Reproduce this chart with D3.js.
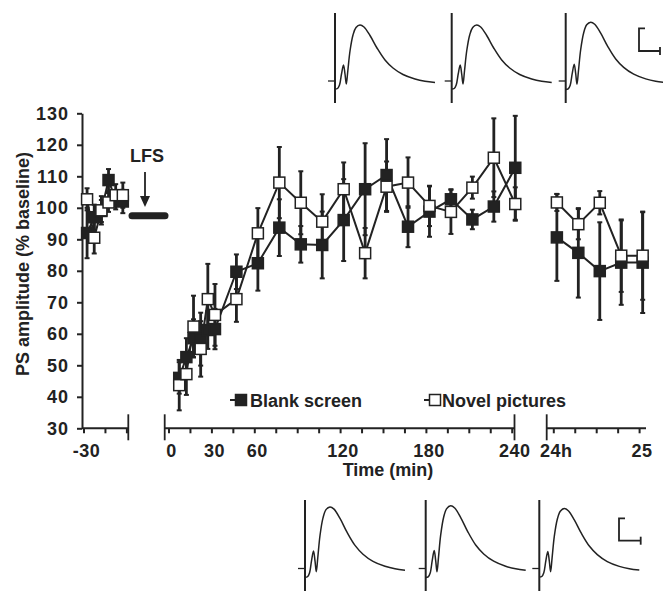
<!DOCTYPE html>
<html>
<head>
<meta charset="utf-8">
<script src="https://cdn.jsdelivr.net/npm/d3@7/dist/d3.min.js"></script>
<style>
  html, body { margin: 0; padding: 0; background: #fff; }
  svg { display: block; }
  text { font-family: "Liberation Sans", Arial, Helvetica, sans-serif; font-weight: bold; fill: #222; }
</style>
</head>
<body>
<svg id="chart" width="663" height="591"></svg>
<script>
// ---------------- DATA ----------------
// Baseline (min before LFS)
const baseTime = [-27.5, -22.5, -17.5, -12.5, -7.5, -2.5];
const baseBlank = [92, 97, 99, 108.8, 102.5, 102];
const baseBlankSem = [8, 4, 3.5, 3.5, 3, 3.7];
const baseNovel = [102.7, 90.5, 99.2, 101.7, 104, 104];
const baseNovelSem = [3.5, 5, 4.5, 3, 3.5, 4];

// Post-LFS (min)
const postTime = [7.5, 12.5, 17.5, 22.5, 27.5, 32.5, 47.5, 62.5, 77.5, 92.5, 107.5, 122.5, 137.5, 152.5, 167.5, 182.5, 197.5, 212.5, 227.5, 242.5];
const postBlank = [46, 52.6, 58.6, 58.3, 61.2, 61.5, 79.7, 82.4, 93.7, 88.4, 88.2, 96.1, 105.9, 110.4, 94, 98.8, 102.7, 96.3, 100.4, 112.7];
const postBlankSem = [5, 6, 6, 8.4, 6, 6.4, 5.5, 8.7, 9, 5.8, 10.6, 13, 14.6, 11.4, 6.5, 8, 3.2, 3.1, 4.8, 16.5];
const postNovel = [43.7, 47.2, 62.3, 55.2, 71, 66, 71, 91.9, 108, 101.6, 95.6, 105.9, 85.6, 106.7, 108, 100.6, 98.7, 106.4, 115.9, 101.2];
const postNovelSem = [8, 6.6, 9.8, 8.8, 11.2, 9.8, 7.2, 8, 11.3, 10, 8.7, 8.5, 8, 8, 8, 6.4, 7, 3.5, 12.5, 5.3];

// 24 h later (min after 24h)
const dayTime = [2.5, 17.5, 32.5, 47.5, 62.5];
const dayBlank = [90.6, 85.7, 79.9, 82.6, 82.6];
const dayBlankSem = [13.8, 14.2, 15.5, 13.4, 16];
const dayNovel = [101.7, 94.8, 101.6, 84.8, 84.8];
const dayNovelSem = [2.7, 4.8, 3.7, 11.5, 14];

// Axis ticks / labels
const yTicks = [30, 40, 50, 60, 70, 80, 90, 100, 110, 120, 130];
const seg1Ticks = [-30, -15, 0];
const seg1Labels = [{t: -30, text: "-30"}];
const seg2Ticks = d3.range(0, 241, 15);
const seg2Labels = [{t: 0, text: "0"}, {t: 30, text: "30"}, {t: 60, text: "60"}, {t: 120, text: "120"}, {t: 180, text: "180"}, {t: 240, text: "240"}];
const seg3Ticks = [0, 15, 30, 45, 60];
const seg3Labels = [{t: 0, text: "24h"}, {t: 60, text: "25"}];
const seriesNames = ["Blank screen", "Novel pictures"];
const lfsLevel = 97.5;

// Example field-potential trace shape (dx, dy)
const traceShape = [[0, 8], [2.5, 7.5], [4.5, 4], [6.5, -7], [8.5, -16], [10, -7], [11.3, 3], [12.8, -10], [15, -30], [18, -46], [21, -53.5], [25, -56], [29, -54], [35, -45.5], [42, -33], [50, -21], [58, -13], [68, -6.5], [80, -2], [90, 0.3], [100, 1.5]];
const topTraceAmp = [1.0, 1.0, 1.05];
const bottomTraceAmp = [1.1, 1.12, 1.07];

// ---------------- LAYOUT ----------------
const ink = "#222";
const svg = d3.select("#chart");

const y = d3.scaleLinear().domain([30, 130]).range([428.3, 113.3]);
const x1 = d3.scaleLinear().domain([-30, 0]).range([83.5, 126.4]);
const x2 = d3.scaleLinear().domain([0, 240]).range([168.5, 511.7]);
const x3 = d3.scaleLinear().domain([0, 60]).range([553.3, 639.1]);
const axisY = 428.3;

// ---------- Y axis ----------
const yAxis = d3.axisLeft(y).tickValues(yTicks).tickSize(5).tickPadding(8).tickSizeOuter(0);
const gy = svg.append("g").attr("transform", "translate(82,0)").call(yAxis);
gy.select(".domain").attr("stroke", ink).attr("stroke-width", 2);
gy.selectAll(".tick line").attr("stroke", ink).attr("stroke-width", 2);
gy.selectAll(".tick text").style("font-size", "18px").style("letter-spacing", "1px").attr("fill", ink).style("font-weight", "bold")
  .attr("font-family", "Liberation Sans, Arial, sans-serif");

svg.append("text")
  .attr("transform", "translate(29,264) rotate(-90)")
  .attr("text-anchor", "middle")
  .style("font-size", "18px")
  .text("PS amplitude (% baseline)");

// ---------- X axis segments ----------
function segment(scale, ticks, labels, x0, xEnd, breakLeft, breakRight) {
  const g = svg.append("g");
  g.append("line").attr("x1", x0).attr("x2", xEnd).attr("y1", axisY).attr("y2", axisY)
    .attr("stroke", ink).attr("stroke-width", 2);
  const ax = d3.axisBottom(scale).tickValues(ticks).tickSize(5).tickFormat("").tickSizeOuter(0);
  const ga = g.append("g").attr("transform", `translate(0,${axisY})`).call(ax);
  ga.select(".domain").remove();
  ga.selectAll(".tick line").attr("stroke", ink).attr("stroke-width", 2);
  if (breakLeft) g.append("line").attr("x1", x0).attr("x2", x0).attr("y1", axisY - 14).attr("y2", axisY + 12).attr("stroke", ink).attr("stroke-width", 1.8);
  if (breakRight) g.append("line").attr("x1", xEnd).attr("x2", xEnd).attr("y1", axisY - 14).attr("y2", axisY + 12).attr("stroke", ink).attr("stroke-width", 1.8);
  g.selectAll("text.xl").data(labels).enter().append("text")
    .attr("class", "xl")
    .attr("x", d => scale(d.t) + 3)
    .attr("y", 457)
    .attr("text-anchor", "middle")
    .style("font-size", "18px")
    .style("letter-spacing", "0.5px")
    .text(d => d.text);
}
segment(x1, seg1Ticks, seg1Labels, 82, 128.3, false, true);
segment(x2, seg2Ticks, seg2Labels, 164.7, 514.5, true, true);
segment(x3, seg3Ticks, seg3Labels, 546.7, 646, true, false);

svg.append("text").attr("x", 388).attr("y", 476).attr("text-anchor", "middle")
  .style("font-size", "18px").text("Time (min)");

// ---------- LFS annotation ----------
svg.append("line").attr("x1", 132).attr("x2", 165).attr("y1", y(lfsLevel)).attr("y2", y(lfsLevel))
  .attr("stroke", ink).attr("stroke-width", 7).attr("stroke-linecap", "round");
svg.append("text").attr("x", 147).attr("y", 162).attr("text-anchor", "middle")
  .style("font-size", "18px").text("LFS");
svg.append("line").attr("x1", 145).attr("x2", 145).attr("y1", 172).attr("y2", 198)
  .attr("stroke", ink).attr("stroke-width", 1.8);
svg.append("path").attr("d", "M140,196 L150,196 L145,207 Z").attr("fill", ink);

// ---------- Data series ----------
const groups = [
  {x: x1, t: baseTime, blank: baseBlank, bsem: baseBlankSem, novel: baseNovel, nsem: baseNovelSem},
  {x: x2, t: postTime, blank: postBlank, bsem: postBlankSem, novel: postNovel, nsem: postNovelSem},
  {x: x3, t: dayTime, blank: dayBlank, bsem: dayBlankSem, novel: dayNovel, nsem: dayNovelSem}
];

const errLayer = svg.append("g");
const lineLayer = svg.append("g");
const markLayer = svg.append("g");
const ms = 11;

groups.forEach(gr => {
  const series = [
    {vals: gr.blank, sem: gr.bsem, fill: ink},
    {vals: gr.novel, sem: gr.nsem, fill: "#fff"}
  ];
  series.forEach(s => {
    const pts = gr.t.map((t, i) => ({t, v: s.vals[i], e: s.sem[i]}));
    const eb = errLayer.selectAll(null).data(pts).enter().append("g");
    eb.append("line").attr("x1", d => gr.x(d.t)).attr("x2", d => gr.x(d.t))
      .attr("y1", d => y(d.v - d.e)).attr("y2", d => y(d.v + d.e))
      .attr("stroke", ink).attr("stroke-width", 2.8);
    eb.append("line").attr("x1", d => gr.x(d.t) - 2.5).attr("x2", d => gr.x(d.t) + 2.5)
      .attr("y1", d => y(d.v + d.e)).attr("y2", d => y(d.v + d.e))
      .attr("stroke", ink).attr("stroke-width", 2);
    eb.append("line").attr("x1", d => gr.x(d.t) - 2.5).attr("x2", d => gr.x(d.t) + 2.5)
      .attr("y1", d => y(d.v - d.e)).attr("y2", d => y(d.v - d.e))
      .attr("stroke", ink).attr("stroke-width", 2);
    lineLayer.append("path").datum(pts)
      .attr("d", d3.line().x(d => gr.x(d.t)).y(d => y(d.v)))
      .attr("fill", "none").attr("stroke", ink).attr("stroke-width", 2);
    markLayer.selectAll(null).data(pts).enter().append("rect")
      .attr("x", d => gr.x(d.t) - ms / 2).attr("y", d => y(d.v) - ms / 2)
      .attr("width", ms).attr("height", ms)
      .attr("fill", s.fill).attr("stroke", ink).attr("stroke-width", 1.5);
  });
});

// ---------- Legend ----------
const legend = [
  {name: seriesNames[0], fill: ink, mx: 241, tx: 250},
  {name: seriesNames[1], fill: "#fff", mx: 435, tx: 442}
];
legend.forEach(l => {
  svg.append("line").attr("x1", l.mx - 11).attr("x2", l.mx).attr("y1", 400).attr("y2", 400)
    .attr("stroke", ink).attr("stroke-width", 2);
  svg.append("rect").attr("x", l.mx - 5.5).attr("y", 394.5).attr("width", 11).attr("height", 11)
    .attr("fill", l.fill).attr("stroke", ink).attr("stroke-width", 1.5);
  svg.append("text").attr("x", l.tx).attr("y", 407).style("font-size", "18px").text(l.name);
});

// ---------- Example traces ----------
const traceLine = d3.line().curve(d3.curveCatmullRom.alpha(0.5));
function drawTrace(ax, by, amp, topY, botY) {
  const g = svg.append("g");
  g.append("line").attr("x1", ax).attr("x2", ax).attr("y1", topY).attr("y2", botY)
    .attr("stroke", ink).attr("stroke-width", 2);
  g.append("line").attr("x1", ax - 7).attr("x2", ax).attr("y1", by).attr("y2", by)
    .attr("stroke", ink).attr("stroke-width", 1.3);
  g.append("path").attr("d", traceLine(traceShape.map(p => [ax + p[0], by + p[1] * amp])))
    .attr("fill", "none").attr("stroke", ink).attr("stroke-width", 1.5);
}
[335, 451.7, 565.7].forEach((ax, i) => drawTrace(ax, 81, topTraceAmp[i], 13, 103));
[305, 425.7, 539.3].forEach((ax, i) => drawTrace(ax, 568.5, bottomTraceAmp[i], 500, 591));

function scaleBar(x0, yTop, yBot, xEnd) {
  const g = svg.append("g").attr("stroke", ink).attr("fill", "none");
  g.append("path").attr("d", `M${x0 + 6},${yTop} L${x0},${yTop} L${x0},${yBot} L${xEnd},${yBot}`).attr("stroke-width", 1.8);
  g.append("line").attr("x1", xEnd).attr("x2", xEnd).attr("y1", yBot - 4).attr("y2", yBot + 4).attr("stroke-width", 1.8);
}
scaleBar(639, 28.3, 51, 660);
scaleBar(619, 518.3, 540.7, 640.7);
</script>
</body>
</html>
